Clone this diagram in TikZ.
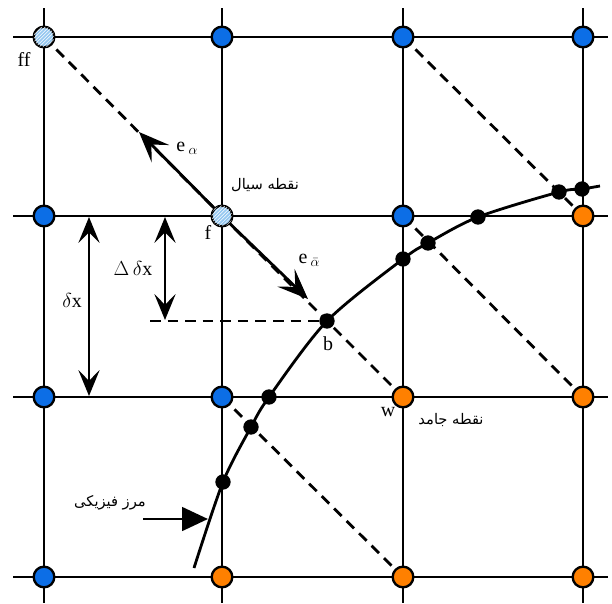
\documentclass[tikz,border=0pt]{standalone}
\usepackage{fontspec}
\setmainfont{Liberation Serif}
\newfontfamily\farsi[Script=Arabic]{DejaVu Sans}
\TeXXeTstate=1
\usetikzlibrary{arrows.meta,patterns}
\definecolor{ptblue}{RGB}{12,110,230}
\definecolor{ptorange}{RGB}{255,128,0}
\definecolor{pthatch}{RGB}{150,200,240}
\newcommand{\lowsym}[1]{\raisebox{-0.3ex}{\fontsize{13}{13}\selectfont$#1$}}

\begin{document}
\begin{tikzpicture}[x=0.03cm,y=-0.03cm,
    gridline/.style={line width=2.4pt},
    diag/.style={line width=2.4pt, dash pattern=on 9pt off 6pt},
    node/.style={circle, draw, line width=2pt, minimum size=0.62cm, inner sep=0pt},
    fluidpt/.style={node, fill=pthatch, postaction={pattern=north east lines, pattern color=white}},
    bluept/.style={node, fill=ptblue},
    orangept/.style={node, fill=ptorange},
    bdot/.style={circle, fill=black, inner sep=0pt, minimum size=0.46cm},
    vec/.style={line width=2.4pt, -{Stealth[length=26pt,width=21pt,inset=11pt]}},
    dim/.style={line width=2.4pt, {Stealth[length=22pt,width=18pt,inset=9pt]}-{Stealth[length=22pt,width=18pt,inset=9pt]}},
    lbl/.style={font=\fontsize{17}{19}\selectfont, inner sep=0pt},
    fa/.style={font=\farsi\fontsize{12.5}{14}\selectfont, inner sep=0pt}]
  \useasboundingbox (0,0) rectangle (612,603);

  % lattice
  \foreach \x [count=\i] in {44,222,403,583}
    \foreach \y [count=\j] in {37,216,397,577}
      \coordinate (p\i\j) at (\x,\y);
  \foreach \x in {44,222,403,583} \draw[gridline] (\x,8) -- (\x,603);
  \foreach \y in {37,216,397,577} \draw[gridline] (13,\y) -- (608,\y);

  % link directions
  \draw[diag] (p11) -- (p22);
  \draw[diag] (p22) -- (p33);
  \draw[diag] (p31) -- (p42);
  \draw[diag] (p32) -- (p43);
  \draw[diag] (p23) -- (p34);

  % physical boundary
  \coordinate (c0) at (194,568);
  \coordinate (d1) at (223,482);
  \coordinate (d2) at (251,427);
  \coordinate (d3) at (269,397);
  \coordinate (b)  at (327,321);
  \coordinate (d4) at (403,259);
  \coordinate (d5) at (428,243);
  \coordinate (d6) at (478,217);
  \coordinate (d7) at (559,192);
  \coordinate (d8) at (582,189);
  \coordinate (c9) at (600,186);
  \draw[line width=2.4pt] plot[smooth, tension=0.5] coordinates {(c0) (d1) (d2) (d3) (b) (d4) (d5) (d6) (d7) (d8) (c9)};

  \coordinate (hl) at (150,321);
  \draw[diag] (hl) -- (b);

  % velocities
  \coordinate (ea) at (139,132);
  \coordinate (eb) at (308,299);
  \draw[vec] (p22) -- (ea);
  \draw[vec] (p22) -- (eb);

  % spacings
  \coordinate (dx1) at (89,217);
  \coordinate (dx2) at (89,396);
  \coordinate (ddx1) at (165,217);
  \coordinate (ddx2) at (165,320);
  \draw[dim] (dx1) -- (dx2);
  \draw[dim] (ddx1) -- (ddx2);

  \coordinate (bt) at (143,519);
  \coordinate (bh) at (208,519);
  \draw[line width=2.4pt, -{Triangle[length=22pt,width=20pt]}] (bt) -- (bh);

  % nodes
  \foreach \p in {p11,p22} \node[fluidpt] (n\p) at (\p) {};
  \foreach \p in {p21,p31,p41,p12,p32,p13,p23,p14} \node[bluept] (n\p) at (\p) {};
  \foreach \p in {p42,p33,p43,p24,p34,p44} \node[orangept] (n\p) at (\p) {};
  \foreach \p in {d1,d2,d3,b,d4,d5,d6,d7,d8} \node[bdot] (n\p) at (\p) {};

  % labels
  \node[lbl] (lff) at (24,59) {ff};
  \node[lbl] (lf) at (208,232) {f};
  \node[lbl] (lb) at (328,344) {b};
  \node[lbl] (lw) at (388,412) {w};
  \node[lbl] (lea) at (187,148) {e\,\lowsym{\alpha}};
  \node[lbl] (leb) at (309,260) {e\,\lowsym{\bar\alpha}};
  \node[lbl] (ldx) at (72,300) {$\delta$x};
  \node[lbl] (lddx) at (133,268) {$\Delta\,\delta$x};
  \node[fa] (lfluid) at (265,185) {\beginR نقطه سیال\endR};
  \node[fa] (lsolid) at (451,420) {\beginR نقطه جامد\endR};
  \node[fa] (lwall) at (110,503) {\beginR مرز فیزیکی\endR};
\end{tikzpicture}
\end{document}
